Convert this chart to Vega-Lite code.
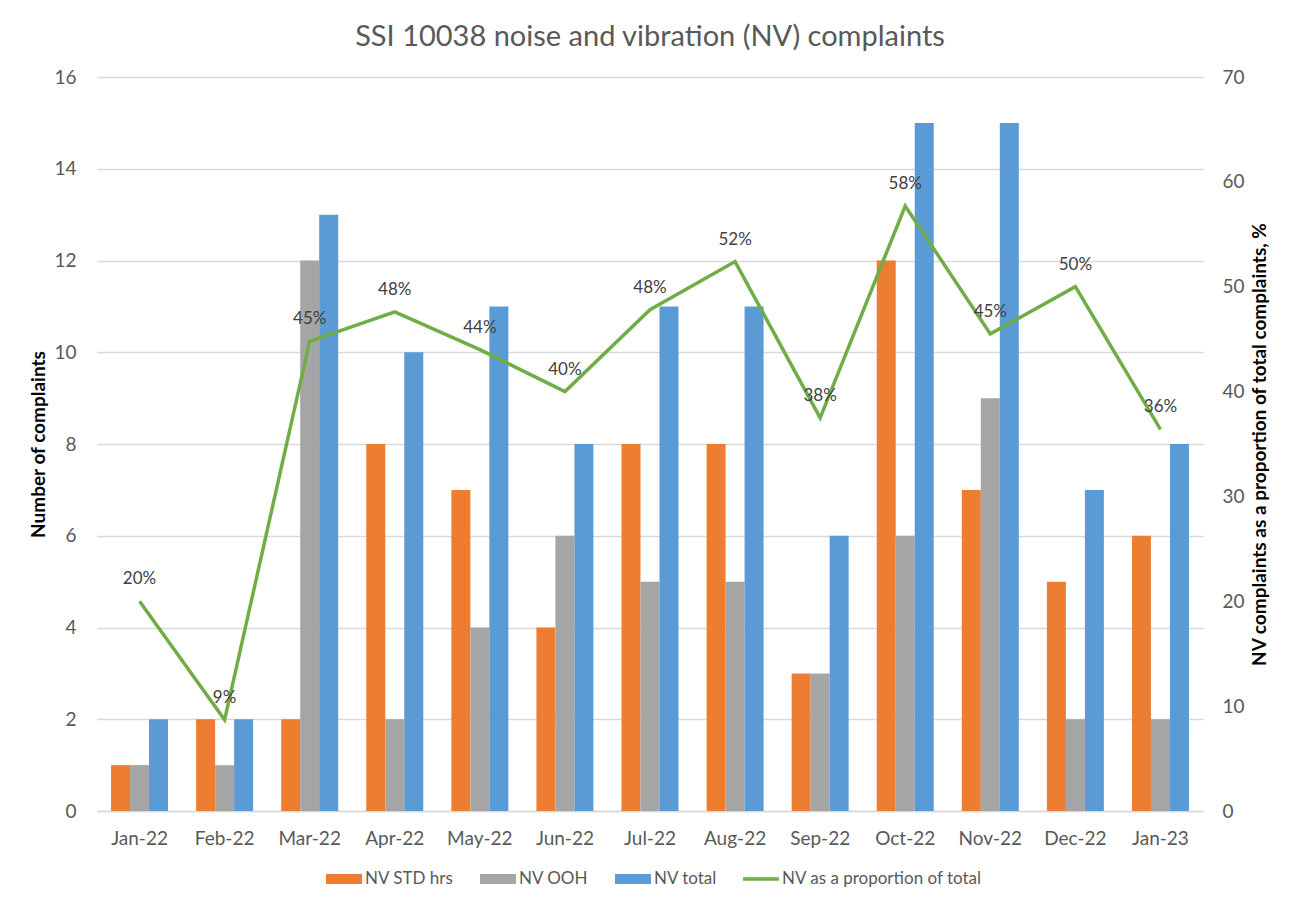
{
  "$schema": "https://vega.github.io/schema/vega-lite/v6.json",
  "width": 1106,
  "height": 734,
  "autosize": {"type": "none"},
  "padding": {"left": 97, "top": 77, "right": 92, "bottom": 95},
  "background": "white",
  "title": {
    "text": "SSI 10038 noise and vibration (NV) complaints",
    "font": "Lato",
    "fontSize": 29,
    "fontWeight": "normal",
    "color": "#595959",
    "anchor": "middle",
    "offset": 16
  },
  "datasets": {
    "bars": [
      {"month": "Jan-22", "series": "NV STD hrs", "value": 1},
      {"month": "Jan-22", "series": "NV OOH", "value": 1},
      {"month": "Jan-22", "series": "NV total", "value": 2},
      {"month": "Feb-22", "series": "NV STD hrs", "value": 2},
      {"month": "Feb-22", "series": "NV OOH", "value": 1},
      {"month": "Feb-22", "series": "NV total", "value": 2},
      {"month": "Mar-22", "series": "NV STD hrs", "value": 2},
      {"month": "Mar-22", "series": "NV OOH", "value": 12},
      {"month": "Mar-22", "series": "NV total", "value": 13},
      {"month": "Apr-22", "series": "NV STD hrs", "value": 8},
      {"month": "Apr-22", "series": "NV OOH", "value": 2},
      {"month": "Apr-22", "series": "NV total", "value": 10},
      {"month": "May-22", "series": "NV STD hrs", "value": 7},
      {"month": "May-22", "series": "NV OOH", "value": 4},
      {"month": "May-22", "series": "NV total", "value": 11},
      {"month": "Jun-22", "series": "NV STD hrs", "value": 4},
      {"month": "Jun-22", "series": "NV OOH", "value": 6},
      {"month": "Jun-22", "series": "NV total", "value": 8},
      {"month": "Jul-22", "series": "NV STD hrs", "value": 8},
      {"month": "Jul-22", "series": "NV OOH", "value": 5},
      {"month": "Jul-22", "series": "NV total", "value": 11},
      {"month": "Aug-22", "series": "NV STD hrs", "value": 8},
      {"month": "Aug-22", "series": "NV OOH", "value": 5},
      {"month": "Aug-22", "series": "NV total", "value": 11},
      {"month": "Sep-22", "series": "NV STD hrs", "value": 3},
      {"month": "Sep-22", "series": "NV OOH", "value": 3},
      {"month": "Sep-22", "series": "NV total", "value": 6},
      {"month": "Oct-22", "series": "NV STD hrs", "value": 12},
      {"month": "Oct-22", "series": "NV OOH", "value": 6},
      {"month": "Oct-22", "series": "NV total", "value": 15},
      {"month": "Nov-22", "series": "NV STD hrs", "value": 7},
      {"month": "Nov-22", "series": "NV OOH", "value": 9},
      {"month": "Nov-22", "series": "NV total", "value": 15},
      {"month": "Dec-22", "series": "NV STD hrs", "value": 5},
      {"month": "Dec-22", "series": "NV OOH", "value": 2},
      {"month": "Dec-22", "series": "NV total", "value": 7},
      {"month": "Jan-23", "series": "NV STD hrs", "value": 6},
      {"month": "Jan-23", "series": "NV OOH", "value": 2},
      {"month": "Jan-23", "series": "NV total", "value": 8}
    ],
    "line": [
      {"month": "Jan-22", "pct": 20.0, "label": "20%"},
      {"month": "Feb-22", "pct": 8.7, "label": "9%"},
      {"month": "Mar-22", "pct": 44.8, "label": "45%"},
      {"month": "Apr-22", "pct": 47.6, "label": "48%"},
      {"month": "May-22", "pct": 44.0, "label": "44%"},
      {"month": "Jun-22", "pct": 40.0, "label": "40%"},
      {"month": "Jul-22", "pct": 47.8, "label": "48%"},
      {"month": "Aug-22", "pct": 52.4, "label": "52%"},
      {"month": "Sep-22", "pct": 37.5, "label": "38%"},
      {"month": "Oct-22", "pct": 57.7, "label": "58%"},
      {"month": "Nov-22", "pct": 45.5, "label": "45%"},
      {"month": "Dec-22", "pct": 50.0, "label": "50%"},
      {"month": "Jan-23", "pct": 36.4, "label": "36%"}
    ]
  },
  "encoding": {
    "x": {
      "field": "month",
      "type": "nominal",
      "sort": ["Jan-22","Feb-22","Mar-22","Apr-22","May-22","Jun-22","Jul-22","Aug-22","Sep-22","Oct-22","Nov-22","Dec-22","Jan-23"],
      "scale": {"paddingInner": 0.33, "paddingOuter": 0.165},
      "axis": {
        "title": null,
        "labelAngle": 0,
        "ticks": false,
        "domain": true,
        "domainColor": "#D9D9D9",
        "domainWidth": 1.5,
        "labelPadding": 18,
        "labelFontSize": 19
      }
    }
  },
  "layer": [
    {
      "data": {"name": "bars"},
      "mark": {"type": "bar"},
      "encoding": {
        "xOffset": {
          "field": "series",
          "type": "nominal",
          "sort": ["NV STD hrs", "NV OOH", "NV total"],
          "scale": {"paddingInner": 0, "paddingOuter": 0}
        },
        "y": {
          "field": "value",
          "type": "quantitative",
          "scale": {"domain": [0, 16], "nice": false},
          "axis": {
            "orient": "left",
            "title": "Number of complaints",
            "values": [0, 2, 4, 6, 8, 10, 12, 14, 16],
            "grid": true,
            "gridColor": "#D9D9D9",
            "gridWidth": 1.5,
            "domain": false,
            "ticks": false,
            "labelPadding": 21,
            "titlePadding": 5,
            "labelFontSize": 19
          }
        },
        "color": {
          "field": "series",
          "type": "nominal",
          "scale": {
            "domain": ["NV STD hrs", "NV OOH", "NV total", "NV as a proportion of total"],
            "range": ["#ED7D31", "#A5A5A5", "#5B9BD5", "#70AD47"]
          },
          "legend": {
            "orient": "none",
            "legendX": 229,
            "legendY": 784,
            "direction": "horizontal",
            "columns": 4,
            "title": null,
            "symbolSize": 1296,
            "symbolType": "M-1,-0.28H1V0.28H-1Z",
            "symbolStrokeWidth": 0,
            "labelFont": "Lato",
            "labelFontSize": 17,
            "labelColor": "#595959",
            "labelOffset": 3,
            "labelLimit": 500,
            "columnPadding": 26,
            "encode": {
              "symbols": {
                "update": {
                  "shape": {"signal": "datum.label === 'NV as a proportion of total' ? 'M-1,-0.1H1V0.1H-1Z' : 'M-1,-0.28H1V0.28H-1Z'"},
                  "fill": {"signal": "scale('color', datum.value)"},
                  "opacity": {"value": 1},
                  "fillOpacity": {"value": 1}
                }
              }
            }
          }
        }
      }
    },
    {
      "data": {"name": "line"},
      "encoding": {
        "y": {
          "field": "pct",
          "type": "quantitative",
          "scale": {"domain": [0, 70], "nice": false},
          "axis": {
            "orient": "right",
            "title": "NV complaints as a proportion of total complaints, %",
            "titleAngle": 270,
            "values": [0, 10, 20, 30, 40, 50, 60, 70],
            "grid": false,
            "domain": false,
            "ticks": false,
            "labelPadding": 19,
            "titlePadding": 25,
            "labelFontSize": 19
          }
        }
      },
      "layer": [
        {
          "mark": {"type": "line", "strokeWidth": 3.5, "color": "#70AD47"},
          "encoding": {
            "color": {"datum": "NV as a proportion of total"}
          }
        },
        {
          "mark": {"type": "text", "dy": -22, "font": "Lato", "fontSize": 17, "color": "#404040"},
          "encoding": {
            "text": {"field": "label"}
          }
        }
      ]
    }
  ],
  "resolve": {"scale": {"y": "independent"}},
  "config": {
    "view": {"stroke": null},
    "font": "Lato",
    "axis": {
      "labelFont": "Lato",
      "labelColor": "#595959",
      "titleFont": "Lato",
      "titleFontSize": 19,
      "titleFontWeight": "bold",
      "titleColor": "#000000"
    }
  }
}
